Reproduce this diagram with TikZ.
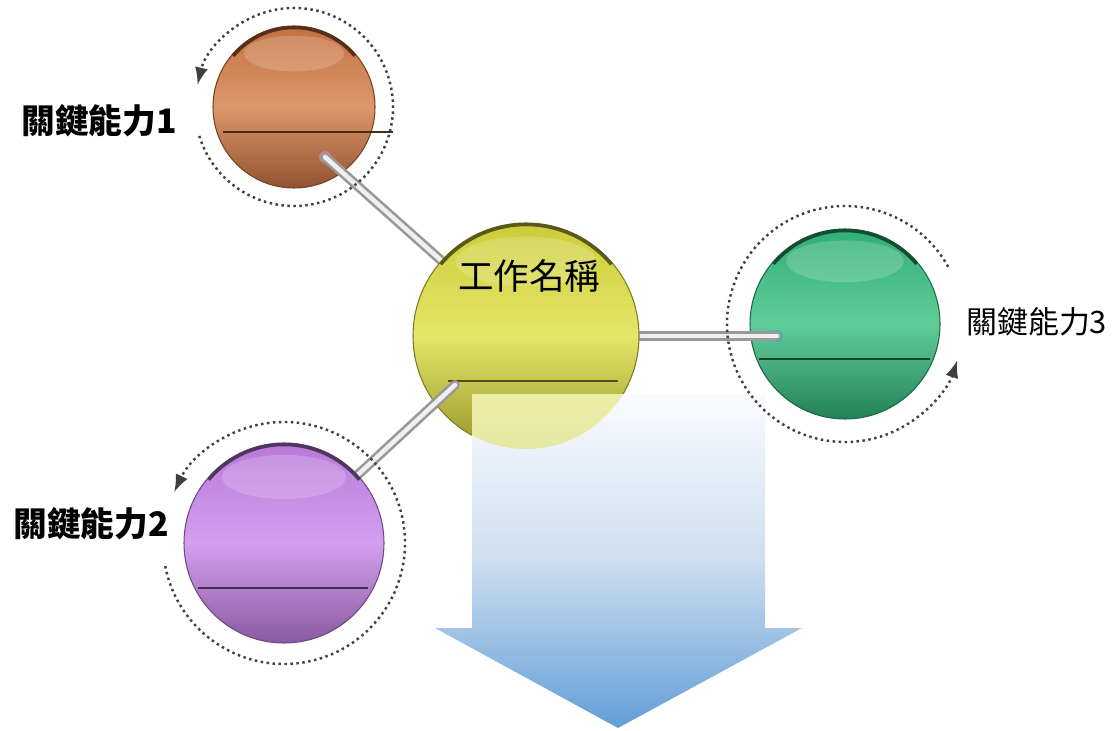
\documentclass[tikz,border=0pt]{standalone}
\usepackage{fontspec}
\newfontfamily\cjk{Noto Sans CJK TC}
\usepackage{tikz}
\usetikzlibrary{arrows,calc,positioning}
\definecolor{copper}{RGB}{212,122,68}
\definecolor{jade}{RGB}{52,190,126}
\definecolor{lilac}{RGB}{200,132,235}
\definecolor{lemon}{RGB}{222,222,62}
\definecolor{arrowtop}{RGB}{250,251,254}
\definecolor{arrowmid}{RGB}{205,222,240}
\definecolor{arrowbot}{RGB}{98,158,214}
\newcommand\bigarrowpath{(4.72,-3.94) -- (7.65,-3.94) -- (7.65,-6.28) -- (8.02,-6.28)
  -- (6.18,-7.28) -- (4.35,-6.28) -- (4.72,-6.28) -- cycle}
\tikzset{
  ball/.style={circle, inner sep=0pt, top color=#1!92!black, bottom color=#1!68!black,
    middle color=#1!78!white, draw=#1!55!black, line width=0.3pt},
  rod/.style={draw=black!40, double=white!94!black, double distance=1.3pt,
    line width=0.75pt, line cap=round},
  ring/.style={draw=black!75, densely dotted, line width=0.7pt, -latex},
  divider/.style={draw=#1!35!black, line width=0.8pt},
  glow/.style={fill=#1, fill opacity=0.6},
  lab/.style={inner sep=0pt, font=\cjk\bfseries\fontsize{9.6}{11}\selectfont},
  labthin/.style={inner sep=0pt, font=\cjk\fontsize{8.8}{10}\selectfont},
  title/.style={inner sep=0pt, font=\cjk\fontsize{10.1}{12}\selectfont}
}
\begin{document}
\begin{tikzpicture}
\useasboundingbox (0,0) rectangle (11.15,-7.31);
\coordinate (pjob) at (5.26,-3.36);
\coordinate (p1) at (2.94,-1.07);
\coordinate (p2) at (2.84,-5.43);
\coordinate (p3) at (8.45,-3.24);
\coordinate (r1) at (3.25,-1.57);
\coordinate (r2) at (4.55,-3.85);
\coordinate (r3) at (7.77,-3.36);

% outer balls, rods behind the job ball
\node[ball=copper, minimum size=1.62cm] (ab1) at (p1) {};
\draw[divider=copper] ($(ab1)+(-0.71,-0.25)$) -- ++(1.70,0);
\node[ball=jade, minimum size=1.90cm] (ab3) at (p3) {};
\draw[divider=jade] ($(ab3)+(-0.86,-0.35)$) -- ++(1.71,0);
\fill[glow=magenta!50] (r1) circle (0.06);
\draw[rod] (r1) -- (pjob);
\fill[glow=cyan] (r3) circle (0.06);
\draw[rod] (pjob) -- (r3);

% job ball
\node[ball=lemon, minimum size=2.26cm] (job) at (pjob) {};
\draw[divider=lemon] ($(job)+(-0.78,-0.45)$) -- ++(1.70,0);
\draw[rod] (r2) -- (p2);
\node[ball=lilac, minimum size=2.00cm] (ab2) at (p2) {};
\draw[divider=lilac] ($(ab2)+(-0.86,-0.45)$) -- ++(1.70,0);

% gloss and top rims
\foreach \b/\r/\c in {ab1/0.81/copper, job/1.13/lemon, ab3/0.95/jade, ab2/1.00/lilac}{
  \pgfmathsetmacro\hy{0.66*\r}
  \pgfmathsetmacro\hx{0.62*\r}
  \pgfmathsetmacro\hh{0.22*\r}
  \pgfmathsetmacro\rr{\r-0.015}
  \fill[white, opacity=.18] ($(\b)+(0,\hy)$) ellipse [x radius=\hx, y radius=\hh];
  \draw[\c!40!black, line width=1pt] ($(\b)+(40:\rr)$) arc[start angle=40, end angle=140, radius=\rr];
}

% big arrow, job ball shows through it
\shade[top color=arrowtop, bottom color=arrowbot, middle color=arrowmid] \bigarrowpath;
\begin{scope}
  \clip \bigarrowpath;
  \fill[lemon, opacity=.45] (job) circle (1.13);
\end{scope}

% rotating rings
\draw[ring] ($(ab1)+(197:0.99)$) arc[start angle=197, end angle=527, radius=0.99];
\draw[ring] ($(ab3)+(29:1.18)$) arc[start angle=29, end angle=342, radius=1.18];
\draw[ring] ($(ab2)+(191:1.21)$) arc[start angle=191, end angle=515, radius=1.21];

% texts
\node[title] (tjob) at ($(job)+(0.03,0.60)$) {工作名稱};
\node[lab, left=0.35cm of ab1, yshift=-0.14cm] (t1) {關鍵能力1};
\node[lab, left=0.14cm of ab2, yshift=0.19cm] (t2) {關鍵能力2};
\node[labthin, right=0.25cm of ab3, yshift=0.02cm] (t3) {關鍵能力3};
\end{tikzpicture}
\end{document}
